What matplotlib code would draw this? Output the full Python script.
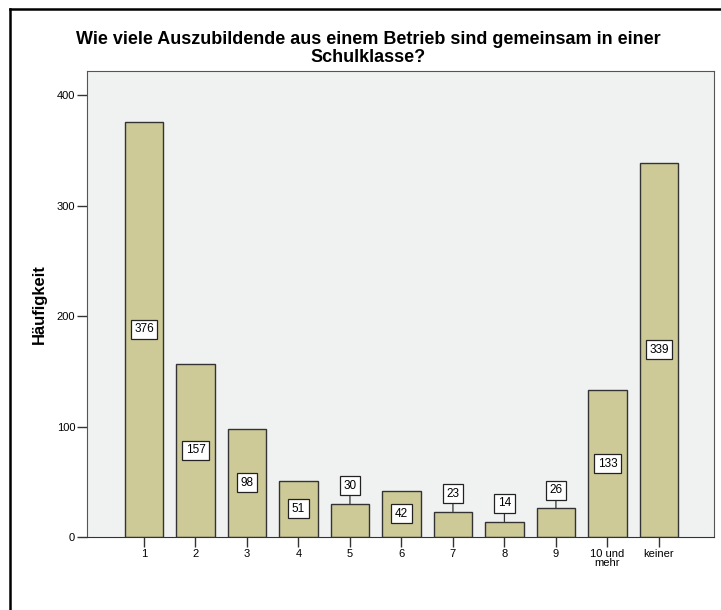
import numpy as np
import matplotlib
matplotlib.use("Agg")
import matplotlib.pyplot as plt
from matplotlib.lines import Line2D

plt.rcParams['font.family'] = ['Liberation Sans', 'DejaVu Sans']

# Häufigkeiten je Kategorie
categories = ['1', '2', '3', '4', '5', '6', '7', '8', '9', '10 und\nmehr', 'keiner']
counts = [376, 157, 98, 51, 30, 42, 23, 14, 26, 133, 339]
# Balken, deren Beschriftung über dem Balken steht
labels_above = ['5', '7', '8', '9']

bar_color = '#cdca98'
bg_color = '#f0f1f1'

fig = plt.figure(figsize=(7.21, 6.10), dpi=100)
ax = fig.add_axes([87 / 721, 73 / 610, (714 - 87) / 721, (537 - 71) / 610])
ax.set_facecolor(bg_color)

x = np.arange(len(categories))
ax.bar(x, counts, width=0.75, color=bar_color, edgecolor='#333333', linewidth=1.0, zorder=2)

for i, (cat, v) in enumerate(zip(categories, counts)):
    box = dict(boxstyle='square,pad=0.3', facecolor='white', edgecolor='#222222', linewidth=0.9)
    if cat in labels_above:
        ax.annotate(str(v), xy=(i, v), xytext=(0, 13), textcoords='offset points',
                    ha='center', va='center', fontsize=8.5, bbox=box, zorder=4,
                    arrowprops=dict(arrowstyle='-', color='#333333', lw=0.9,
                                    shrinkA=0, shrinkB=0))
    else:
        ax.text(i, v / 2, str(v), ha='center', va='center', fontsize=8.5, bbox=box, zorder=4)

ax.set_xlim(-1.107, 11.07)
ax.set_ylim(0, 422)
ax.set_xticks(x)
ax.set_xticklabels(categories, fontsize=8, linespacing=0.95)
ax.set_yticks([0, 100, 200, 300, 400])
ax.tick_params(axis='both', direction='out', length=7, width=1.0, color='#333333', labelsize=8, pad=1.5)
for side in ['left', 'right', 'top']:
    ax.spines[side].set_color('#555555')
ax.spines['bottom'].set_color('#333333')

ax.set_ylabel('Häufigkeit', fontsize=12, fontweight='bold', labelpad=7)

fig.text(368 / 721, 1 - 31 / 610,
         'Wie viele Auszubildende aus einem Betrieb sind gemeinsam in einer\nSchulklasse?',
         ha='center', va='top', fontsize=13, fontweight='bold', linespacing=1.05)

# Rahmen links und oben
fig.add_artist(Line2D([10 / 721, 10 / 721], [0, 1 - 9 / 610], color='black', lw=1.8,
                      transform=fig.transFigure))
fig.add_artist(Line2D([10 / 721, 1], [1 - 9 / 610, 1 - 9 / 610], color='black', lw=1.8,
                      transform=fig.transFigure))

fig.savefig('out.png', dpi=100, facecolor='white')
